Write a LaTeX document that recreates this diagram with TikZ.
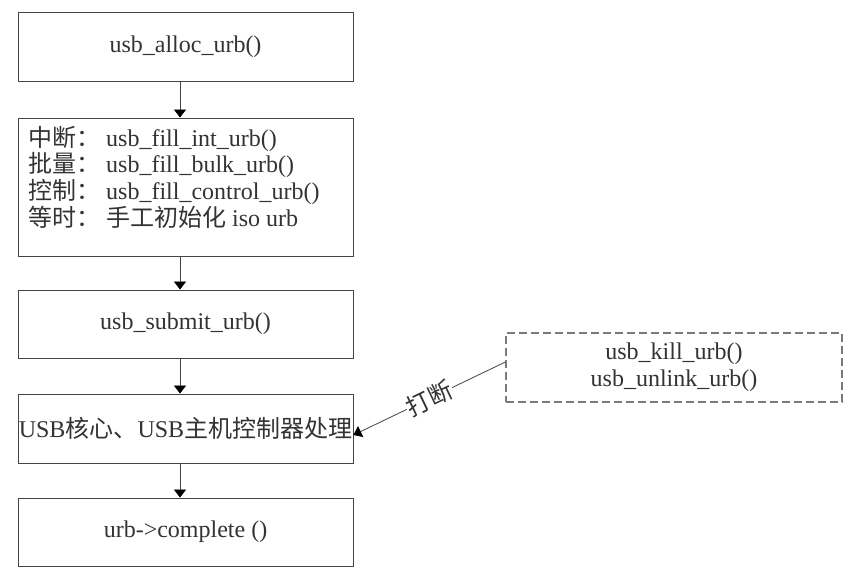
\documentclass[tikz,border=0pt]{standalone}
\usepackage{fontspec}
\setmainfont{Liberation Serif}
\newfontfamily\cjk{Noto Sans CJK SC}
\usetikzlibrary{arrows.meta}
\newcommand\zh[1]{{\cjk #1}}
\definecolor{txt}{HTML}{333333}
\definecolor{ln}{HTML}{444444}
\definecolor{dl}{HTML}{7A7A7A}
\begin{document}
\begin{tikzpicture}[x=1pt,y=-1pt,
  every node/.style={text=txt,font=\fontsize{24}{26.7}\selectfont},
  box/.style={draw=ln,line width=0.9pt,minimum width=335pt,inner sep=0pt,anchor=center},
  dbox/.style={draw=dl,line width=1.3pt,dash pattern=on 8pt off 4pt,minimum width=336pt,minimum height=69pt,inner sep=0pt,align=center},
  arr/.style={draw=ln,line width=0.8pt,-{Triangle[width=12pt,length=8pt,color=black]}}]
\useasboundingbox (0,0) rectangle (853,574);
\fill[white] (0,0) rectangle (853,574);
% boxes
\node[box,minimum height=69pt] (b1) at (185.5,46.5) {usb\_alloc\_urb()};
\node[box,minimum height=138pt] (b2) at (185.5,187) {};
\node[anchor=west,align=left,inner sep=0pt] (b2t) at (28,177)
 {\zh{中断：} usb\_fill\_int\_urb()\\
  \zh{批量：} usb\_fill\_bulk\_urb()\\
  \zh{控制：} usb\_fill\_control\_urb()\\
  \zh{等时：} \zh{手工初始化} iso urb};
\node[box,minimum height=68pt] (b3) at (185.5,324) {usb\_submit\_urb()};
\node[box,minimum height=69pt] (b4) at (185.5,428.5) {USB\zh{核心、}USB\zh{主机控制器处理}};
\node[box,minimum height=68pt] (b5) at (185.5,532) {urb->complete ()};
\node[dbox] (dk) at (674,367.5) {usb\_kill\_urb()\\usb\_unlink\_urb()};
% arrows
\coordinate (ax) at (180,0);
\draw[arr] (b1.south -| ax) -- (b2.north -| ax);
\draw[arr] (b2.south -| ax) -- (b3.north -| ax);
\draw[arr] (b3.south -| ax) -- (b4.north -| ax);
\draw[arr] (b4.south -| ax) -- (b5.north -| ax);
\draw[arr] ([yshift=5.5pt]dk.west) -- node[sloped,fill=white,inner sep=1pt,pos=0.5] {\zh{打断}} ([yshift=-6.5pt]b4.east);
\end{tikzpicture}
\end{document}
